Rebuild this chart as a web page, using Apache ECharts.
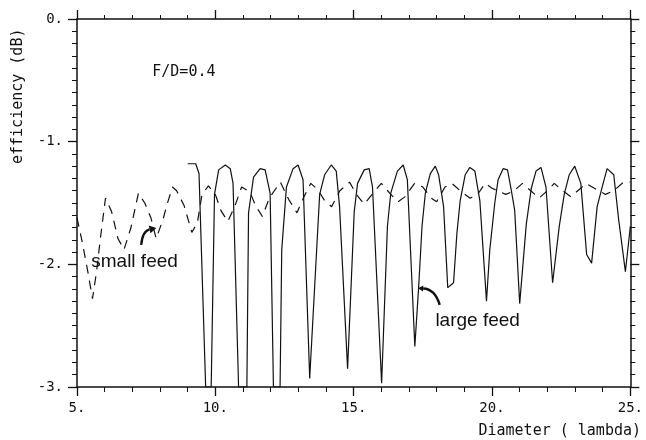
<!DOCTYPE html>
<html>
<head>
<meta charset="utf-8">
<script src="https://cdn.jsdelivr.net/npm/echarts@6/dist/echarts.min.js"></script>
<style>
  html, body { margin: 0; background: #fff; }
  #chart { width: 646px; height: 440px; }
</style>
</head>
<body>
<div id="chart"></div>
<script>
// large feed (solid)
const largeFeedX = [9.0, 9.29, 9.41, 9.65, 9.85, 9.97, 10.12, 10.36, 10.54, 10.64, 10.84, 11.14, 11.2, 11.38, 11.62, 11.8, 11.98, 12.1, 12.34, 12.4, 12.57, 12.81, 12.99, 13.17, 13.41, 13.77, 13.95, 14.19, 14.37, 14.49, 14.78, 15.02, 15.14, 15.38, 15.56, 15.68, 16.01, 16.22, 16.34, 16.58, 16.79, 16.94, 17.21, 17.35, 17.47, 17.59, 17.77, 17.95, 18.07, 18.25, 18.4, 18.61, 18.73, 18.85, 19.03, 19.2, 19.38, 19.56, 19.8, 19.92, 20.1, 20.22, 20.4, 20.56, 20.7, 20.82, 21.0, 21.24, 21.42, 21.59, 21.77, 21.95, 22.19, 22.43, 22.61, 22.79, 22.99, 23.21, 23.42, 23.6, 23.8, 23.98, 24.16, 24.4, 24.58, 24.82, 25.0];
const largeFeedY = [-1.18, -1.18, -1.26, -3.0, -3.0, -1.43, -1.23, -1.19, -1.22, -1.34, -3.0, -3.0, -1.58, -1.29, -1.22, -1.23, -1.42, -3.0, -3.0, -1.88, -1.37, -1.22, -1.19, -1.31, -2.93, -1.43, -1.27, -1.19, -1.24, -1.53, -2.85, -1.57, -1.34, -1.23, -1.22, -1.37, -2.97, -1.69, -1.42, -1.24, -1.19, -1.31, -2.67, -2.18, -1.69, -1.42, -1.26, -1.2, -1.27, -1.53, -2.19, -2.15, -1.75, -1.48, -1.27, -1.21, -1.24, -1.48, -2.3, -1.88, -1.5, -1.31, -1.22, -1.23, -1.4, -1.56, -2.32, -1.67, -1.38, -1.24, -1.21, -1.37, -2.15, -1.69, -1.43, -1.27, -1.2, -1.34, -1.92, -1.99, -1.53, -1.37, -1.22, -1.27, -1.64, -2.06, -1.69];

// small feed (dashed)
const smallFeedX = [5.0, 5.2, 5.4, 5.56, 5.7, 5.85, 6.03, 6.25, 6.48, 6.7, 6.95, 7.22, 7.45, 7.67, 7.86, 8.1, 8.27, 8.45, 8.6, 8.87, 9.15, 9.35, 9.52, 9.75, 10.0, 10.2, 10.45, 10.7, 10.95, 11.25, 11.45, 11.7, 11.95, 12.35, 12.65, 12.95, 13.2, 13.45, 13.7, 13.95, 14.2, 14.5, 14.85, 15.1, 15.38, 15.7, 16.0, 16.3, 16.6, 16.85, 17.2, 17.5, 17.8, 18.0, 18.3, 18.55, 18.9, 19.2, 19.45, 19.75, 20.0, 20.5, 20.8, 21.1, 21.4, 21.7, 22.0, 22.25, 22.5, 22.85, 23.1, 23.4, 23.7, 24.1, 24.4, 24.75, 25.0];
const smallFeedY = [-1.62, -1.83, -2.07, -2.28, -2.07, -1.78, -1.46, -1.57, -1.79, -1.88, -1.7, -1.42, -1.5, -1.62, -1.79, -1.64, -1.5, -1.37, -1.4, -1.52, -1.74, -1.66, -1.43, -1.36, -1.43, -1.56, -1.65, -1.53, -1.37, -1.41, -1.52, -1.61, -1.46, -1.33, -1.47, -1.58, -1.45, -1.34, -1.39, -1.48, -1.53, -1.4, -1.33, -1.43, -1.51, -1.42, -1.34, -1.42, -1.49, -1.45, -1.34, -1.37, -1.46, -1.49, -1.37, -1.34, -1.41, -1.46, -1.44, -1.34, -1.38, -1.43, -1.4, -1.34, -1.4, -1.46, -1.4, -1.34, -1.39, -1.45, -1.4, -1.34, -1.38, -1.43, -1.4, -1.33, -1.33];

// annotations in data units
const smallArrow = [[7.32, -1.842], [7.37, -1.728], [7.87, -1.703]];   // start, control, end
const largeArrow = [[18.11, -2.331], [17.94, -2.2], [17.33, -2.195]];
const smallLabel = [7.08, -1.98];
const largeLabel = [19.48, -2.46];
const ratioLabel = [7.72, -0.43];

const INK = '#111';
const MONO = 'DejaVu Sans Mono';

function zip(xs, ys) {
  return xs.map((x, i) => [x, ys[i]]);
}

function makeAxis(opts, showLabel) {
  return Object.assign({
    type: 'value',
    axisLine: { show: true, onZero: false, lineStyle: { color: INK, width: 1.5 } },
    axisTick: { show: true, inside: false, length: 9, lineStyle: { color: INK, width: 1.3 } },
    minorTick: { show: true, length: 5, lineStyle: { color: INK, width: 1 } },
    splitLine: { show: false },
    minorSplitLine: { show: false },
    axisLabel: {
      show: showLabel,
      formatter: v => v + '.',
      fontFamily: MONO,
      fontSize: 14,
      color: INK
    }
  }, opts);
}

const chart = echarts.init(document.getElementById('chart'), null, { renderer: 'canvas' });

chart.setOption({
  animation: false,
  backgroundColor: '#fff',
  grid: { left: 77, right: 11, top: 19, bottom: 53 },
  xAxis: [
    makeAxis({ min: 5, max: 25, interval: 5, position: 'bottom', minorTick: { show: true, splitNumber: 5, length: 5, lineStyle: { color: INK } } }, true),
    makeAxis({ min: 5, max: 25, interval: 5, position: 'top', minorTick: { show: true, splitNumber: 5, length: 4, lineStyle: { color: INK } } }, false)
  ],
  yAxis: [
    makeAxis({ min: -3, max: 0, interval: 1, position: 'left', minorTick: { show: true, splitNumber: 10, length: 5, lineStyle: { color: INK } } }, true),
    makeAxis({ min: -3, max: 0, interval: 1, position: 'right', minorTick: { show: true, splitNumber: 10, length: 5, lineStyle: { color: INK } } }, false)
  ],
  series: [
    {
      name: 'large feed',
      type: 'line',
      data: zip(largeFeedX, largeFeedY),
      symbol: 'none',
      clip: true,
      lineStyle: { color: INK, width: 1.2 }
    },
    {
      name: 'small feed',
      type: 'line',
      data: zip(smallFeedX, smallFeedY),
      symbol: 'none',
      clip: true,
      lineStyle: { color: INK, width: 1.2, type: [9, 7] }
    }
  ]
});

// fix label margins after axes exist
chart.setOption({
  xAxis: [{ axisLabel: { margin: 14 } }, {}],
  yAxis: [{ axisLabel: { margin: 14 } }, {}]
});

const toPx = p => chart.convertToPixel({ xAxisIndex: 0, yAxisIndex: 0 }, p);

function arrowParts(pts, headLen, headW) {
  const [s, c, e] = pts.map(toPx);
  const dx = e[0] - c[0], dy = e[1] - c[1];
  const len = Math.hypot(dx, dy) || 1;
  const ux = dx / len, uy = dy / len;
  const bx = e[0] - ux * headLen, by = e[1] - uy * headLen;
  return [
    {
      type: 'bezierCurve',
      shape: { x1: s[0], y1: s[1], cpx1: c[0], cpy1: c[1], x2: bx, y2: by },
      style: { stroke: INK, lineWidth: 2.4, fill: null }
    },
    {
      type: 'polygon',
      shape: { points: [e, [bx - uy * headW, by + ux * headW], [bx + uy * headW, by - ux * headW]] },
      style: { fill: INK }
    }
  ];
}

const sl = toPx(smallLabel), ll = toPx(largeLabel), rl = toPx(ratioLabel);

chart.setOption({
  graphic: [
    {
      type: 'text', x: 18, y: 164, rotation: Math.PI / 2,
      style: { text: 'efficiency (dB)', fontFamily: MONO, fontSize: 15, fill: INK, textAlign: 'left', textVerticalAlign: 'middle' }
    },
    {
      type: 'text', x: 641, y: 431,
      style: { text: 'Diameter ( lambda)', fontFamily: MONO, fontSize: 15, fill: INK, textAlign: 'right', textVerticalAlign: 'middle' }
    },
    {
      type: 'text', x: rl[0], y: rl[1],
      style: { text: 'F/D=0.4', fontFamily: MONO, fontSize: 15, fill: INK, textAlign: 'left', textVerticalAlign: 'middle' }
    },
    {
      type: 'text', x: sl[0], y: sl[1],
      style: { text: 'small feed', fontFamily: 'Liberation Sans', fontSize: 19, fill: INK, textAlign: 'center', textVerticalAlign: 'middle' }
    },
    {
      type: 'text', x: ll[0], y: ll[1],
      style: { text: 'large feed', fontFamily: 'Liberation Sans', fontSize: 19, fill: INK, textAlign: 'center', textVerticalAlign: 'middle' }
    }
  ].concat(arrowParts(smallArrow, 7, 4), arrowParts(largeArrow, 5, 3))
});
</script>
</body>
</html>
